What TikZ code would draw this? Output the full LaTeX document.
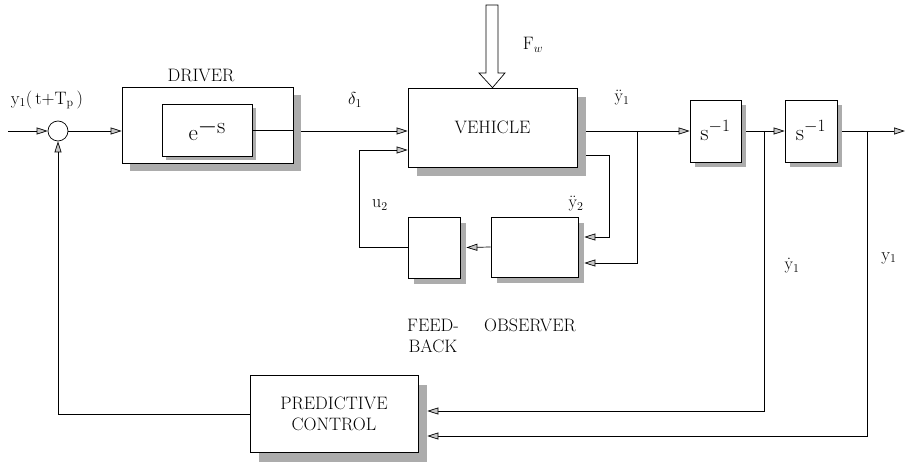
\documentclass[tikz,border=0pt]{standalone}
\usetikzlibrary{arrows.meta,calc,shadows}
\begin{document}
\begin{tikzpicture}[x=1pt,y=-1pt,line width=0.7pt,
  font=\fontsize{18}{21}\selectfont,
  arr/.style={-{Triangle[length=11pt,width=7pt,fill=gray!45]}},
  blk/.style={draw,fill=white,inner sep=0pt,align=center},
  big/.style={font=\fontsize{23}{26}\selectfont},
  shd/.style={drop shadow={shadow xshift=#1pt,shadow yshift=-#1pt,fill=gray!65,opacity=1}},
  lbl/.style={inner sep=0pt}]
\useasboundingbox (0,0) rectangle (911,465);
% blocks
\node[draw,circle,minimum size=20pt,inner sep=0pt] (sum) at (58,131) {};
\node[blk,shd=8,minimum width=171pt,minimum height=76pt] (driver) at (207.5,125.5) {};
\node[blk,shd=4,big,minimum width=90pt,minimum height=52pt] (delay) at (207,130) {e\raisebox{7pt}{$-$s}};
\node[blk,shd=9,minimum width=169pt,minimum height=79pt] (veh) at (492.5,127.5) {VEHICLE};
\node[blk,shd=6,minimum width=52pt,minimum height=61pt] (fb) at (434,247.5) {};
\node[blk,shd=6,minimum width=87pt,minimum height=60pt] (obs) at (534.5,247) {};
\node[blk,shd=5,big,minimum width=51pt,minimum height=62pt] (s1) at (715.5,131) {s$^{-1}$};
\node[blk,shd=5,big,minimum width=52pt,minimum height=62pt] (s2) at (811,131) {s$^{-1}$};
\node[blk,shd=9,minimum width=168pt,minimum height=77pt] (pc) at (334,414) {PREDICTIVE\\CONTROL};
% disturbance arrow
\draw[fill=white] (486,5) -- (498,5) -- (498,73) -- (505,73) -- (veh.north) -- (479,73) -- (486,73) -- cycle;
% coordinates
\coordinate (in) at (8,131);
\coordinate (drvout) at ($(driver.east|-sum)+(8,0)$);
\coordinate (vehout) at ($(veh.east|-sum)+(9,0)$);
\coordinate (vehout2) at ($(veh.east)+(9,27.5)$);
\coordinate (c1) at (609,155);
\coordinate (c2) at (609,237);
\coordinate (b1) at (637,131);
\coordinate (b1d) at (637,263);
\coordinate (s1out) at ($(s1.east)+(5,0)$);
\coordinate (b2) at (764,131);
\coordinate (b2d) at (764,411);
\coordinate (s2out) at ($(s2.east)+(5,0)$);
\coordinate (b3) at (867,131);
\coordinate (b3d) at (867,436);
\coordinate (out) at (905,131);
\coordinate (fbl) at (359,247.5);
\coordinate (fbu) at (359,150);
% connectors
\draw[arr] (in) -- (sum.west);
\draw[arr] (sum.east) -- (sum -| driver.west);
\draw (delay.east) -- (delay -| driver.east);
\draw[arr] (drvout) -- (drvout -| veh.west);
\draw[arr] (pc.west) -| (sum.south);
\draw[arr] (fb.west) -- (fbl) -- (fbu) -- (fbu -| veh.west);
\draw[arr] (obs.west) -- ($(fb.east)+(6,0)$);
\draw[arr] (vehout2) -- (c1) -- (c2) -- ($(c2 -| obs.east)+(6,0)$);
\draw[arr] (vehout) -- (s1.west);
\draw[arr] (b1) -- (b1d) -- ($(b1d -| obs.east)+(6,0)$);
\draw[arr] (s1out) -- (s2.west);
\draw[arr] (b2) -- (b2d) -- ($(b2d -| pc.east)+(9,0)$);
\draw[arr] (s2out) -- (out);
\draw[arr] (b3) -- (b3d) -- ($(b3d -| pc.east)+(9,0)$);
% labels
\node[lbl] (lin) at (47,100) {y$_1$(\,t+T$_\mathrm{p}$\,)};
\node[lbl] (ldrv) at (201,75) {DRIVER};
\node[lbl] (ldel) at (355,100) {$\delta_1$};
\node[lbl] (lfw) at (533,45) {F$_w$};
\node[lbl] (ly1dd) at (622,98) {$\ddot{\mathrm{y}}_1$};
\node[lbl] (lu2) at (380,205) {u$_2$};
\node[lbl] (ly2dd) at (576,204) {$\ddot{\mathrm{y}}_2$};
\node[lbl] (lfeed) at (433,325) {FEED-};
\node[lbl] (lback) at (433,346) {BACK};
\node[lbl] (lobs) at (530,325) {OBSERVER};
\node[lbl] (ly1d) at (792,266) {$\dot{\mathrm{y}}_1$};
\node[lbl] (ly1) at (889,258) {y$_1$};
\end{tikzpicture}
\end{document}
